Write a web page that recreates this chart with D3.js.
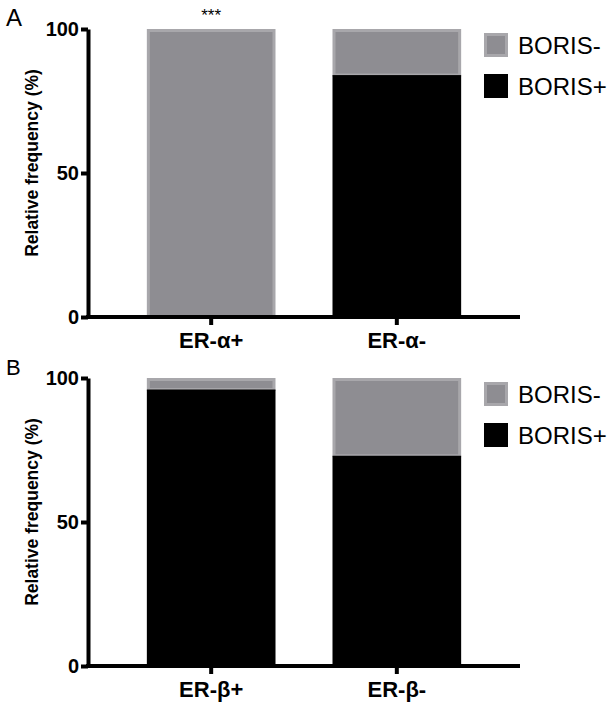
<!DOCTYPE html>
<html>
<head>
<meta charset="utf-8">
<script src="https://cdn.jsdelivr.net/npm/d3@7"></script>
<style>
  body { margin: 0; background: #fff; }
  svg { font-family: "Liberation Sans", Arial, sans-serif; }
  .tick text { font-weight: bold; }
</style>
</head>
<body>
<div id="chart"></div>
<script>
// data
const groupsA = ["ER-α+", "ER-α-"];
const borisNegA = [100, 16];
const borisPosA = [0, 84];
const groupsB = ["ER-β+", "ER-β-"];
const borisNegB = [4, 27];
const borisPosB = [96, 73];
const seriesNames = ["BORIS-", "BORIS+"];
const seriesColors = ["#8e8d92", "#000000"];
const yTicks = [0, 50, 100];

const W = 613, H = 707;
const svg = d3.select("#chart").append("svg")
  .attr("width", W)
  .attr("height", H);

// draws one panel (A or B)
function drawPanel(letter, letterSize, top, groups, neg, pos, star) {
  let g = svg.append("g");
  let axisLeftX = 88, axisRightX = 520;
  let y0 = top + 288, y1 = top;

  let y = d3.scaleLinear().domain([0, 100]).range([y0, y1]);
  let x = d3.scaleBand().domain(groups)
    .range([119, 489])
    .paddingInner(0.307)
    .paddingOuter(0.15);

  let rows = groups.map((d, i) => ({group: d, neg: neg[i], pos: pos[i]}));

  // BORIS- on top of BORIS+
  g.selectAll("rect.neg").data(rows).enter().append("rect")
    .attr("class", "neg")
    .attr("x", d => x(d.group) + 1.5)
    .attr("width", x.bandwidth() - 3)
    .attr("y", d => y(d.pos + d.neg) + 1.5)
    .attr("height", d => Math.max(0, y(d.pos) - y(d.pos + d.neg) - 1.5))
    .attr("fill", seriesColors[0])
    .attr("stroke", "#a8a7ab")
    .attr("stroke-width", 3);

  g.selectAll("rect.pos").data(rows.filter(d => d.pos > 0)).enter().append("rect")
    .attr("class", "pos")
    .attr("x", d => x(d.group))
    .attr("width", x.bandwidth())
    .attr("y", d => y(d.pos))
    .attr("height", d => y(0) - y(d.pos))
    .attr("fill", seriesColors[1]);

  // y axis
  let yAxis = g.append("g")
    .attr("transform", `translate(${axisLeftX},0)`)
    .call(d3.axisLeft(y).tickValues(yTicks).tickSize(7).tickSizeOuter(0).tickPadding(2));
  yAxis.select(".domain").attr("stroke-width", 4);
  yAxis.selectAll(".tick line").attr("stroke-width", 4);
  yAxis.selectAll(".tick text").attr("font-size", 20).attr("fill", "#000");

  // x axis
  let xAxis = g.append("g")
    .attr("transform", `translate(0,${y0})`)
    .call(d3.axisBottom(x).tickSize(8).tickSizeOuter(0).tickPadding(6));
  xAxis.select(".domain").remove();
  xAxis.selectAll(".tick line").attr("stroke-width", 4);
  xAxis.selectAll(".tick text").attr("font-size", 22).attr("fill", "#000").attr("dy", "0.78em");
  g.append("line")
    .attr("x1", axisLeftX - 2).attr("x2", axisRightX)
    .attr("y1", y0).attr("y2", y0)
    .attr("stroke", "#000").attr("stroke-width", 4);

  // axis title
  g.append("text")
    .attr("transform", `translate(38,${(y0 + y1) / 2 - 10}) rotate(-90)`)
    .attr("text-anchor", "middle")
    .attr("font-size", 17.5)
    .attr("font-weight", "bold")
    .text("Relative frequency (%)");

  // panel letter
  g.append("text")
    .attr("x", 6).attr("y", top - 3)
    .attr("font-size", letterSize)
    .text(letter);

  if (star) {
    g.append("text")
      .attr("x", x(groups[0]) + x.bandwidth() / 2)
      .attr("y", top - 8)
      .attr("text-anchor", "middle")
      .attr("font-size", 17)
      .text(star);
  }

  // legend
  let legend = g.selectAll("g.legend").data(seriesNames).enter().append("g")
    .attr("transform", (d, i) => `translate(484,${top + 4 + i * 41})`);
  legend.append("rect")
    .attr("x", 1.5).attr("y", 1.5)
    .attr("width", 21).attr("height", 21)
    .attr("fill", (d, i) => seriesColors[i])
    .attr("stroke", (d, i) => i == 0 ? "#a8a7ab" : "#000")
    .attr("stroke-width", 3);
  legend.append("text")
    .attr("x", 34).attr("y", 21)
    .attr("font-size", 24)
    .text(d => d);
}

drawPanel("A", 24, 29, groupsA, borisNegA, borisPosA, "***");
drawPanel("B", 22, 378, groupsB, borisNegB, borisPosB, null);
</script>
</body>
</html>
